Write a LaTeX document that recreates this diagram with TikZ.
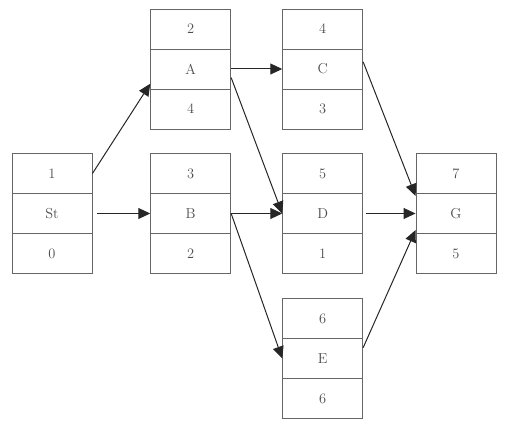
\documentclass[tikz,border=0pt]{standalone}
\usetikzlibrary{arrows.meta,calc}
\begin{document}
\begin{tikzpicture}[x=1pt, y=-1pt, >={Triangle[length=12pt,width=11pt]},
                    cell/.style={draw=black!60, line width=0.9pt, minimum width=80pt,
                                 minimum height=40pt, inner sep=0pt, text=black!70, font=\Large},
                    link/.style={->, line width=1pt, black!85}]
  \useasboundingbox (0,0) rectangle (507,433);
  % each task: top number, name, bottom number
  \foreach \n/\x/\y/\up/\dn in {St/52/213.5/1/0, A/190.7/69/2/4, B/190.7/213.5/3/2,
                                 C/322.7/69/4/3, D/322.7/213.5/5/1, E/322.7/358.5/6/6,
                                 G/456/213.5/7/5} {
    \node[cell] (\n-t) at (\x,\y-40) {\up};
    \node[cell] (\n)   at (\x,\y)    {\n};
    \node[cell] (\n-b) at (\x,\y+40) {\dn};
  }
  \draw[link] (St-t.east) -- (A.200);
  \draw[link] ([xshift=5pt]St.east) -- (B.west);
  \draw[link] (A.east) -- (C.west);
  \draw[link] (A.348) -- (D.west);
  \draw[link] (B.east) -- (D.west);
  \draw[link] (B.east) -- (E.west);
  \draw[link] (C.10) -- ($(G-t.south west)+(0,2)$);
  \draw[link] ([xshift=3pt]D.east) -- (G.west);
  \draw[link] (E.15) -- ($(G-b.north west)+(0,-3)$);
\end{tikzpicture}
\end{document}
